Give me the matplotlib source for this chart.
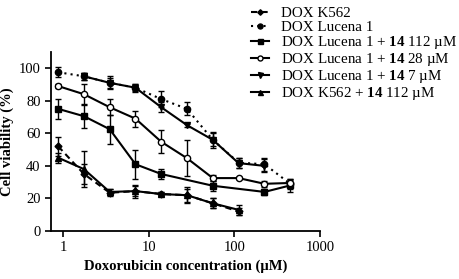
import numpy as np
import matplotlib
matplotlib.use('Agg')
import matplotlib.pyplot as plt
from matplotlib.lines import Line2D

plt.rcParams['font.family'] = ['Liberation Serif', 'DejaVu Serif']
plt.rcParams['mathtext.fontset'] = 'custom'
plt.rcParams['mathtext.rm'] = 'Liberation Serif'
plt.rcParams['mathtext.bf'] = 'Liberation Serif:bold'

#data (doxorubicin concentration in uM, viability in %)
conc = [0.875, 1.75, 3.5, 7, 14, 28, 56, 112, 225, 450]

k562_x = [0.875, 1.75, 3.5, 7, 14, 28, 56, 112]
k562_y = [52, 35, 23.5, 24.5, 22.7, 22, 17, 12]
k562_e = [6, 6, 2, 3, 1, 4, 3, 2]

luc_x = conc
luc_y = [97.5, 95, 91, 88, 81, 75, 56, 42, 41, 29]
luc_e = [3, 2, 4, 2.5, 5, 4, 5, 3, 4, 3]

luc112_x = [0.875, 1.75, 3.5, 7, 14, 56, 225, 450]
luc112_y = [75, 70.5, 62.5, 41, 35, 27.8, 24, 28]
luc112_e = [6, 7, 9, 9, 3, 3, 2, 4]

luc28_x = conc
luc28_y = [89, 84, 76, 69, 54.8, 44.7, 32.5, 32.5, 29, 29.5]
luc28_e = [1, 6, 5, 5, 7, 11, 2, 0.5, 2, 2]

luc7_x = [1.75, 3.5, 7, 14, 28, 56, 112, 225]
luc7_y = [95, 91, 88, 76, 65, 56, 41.7, 40]
luc7_e = [2, 3, 2, 3, 1, 4, 3, 4]

k562c_x = [0.875, 1.75, 3.5, 7, 14, 28, 56, 112]
k562c_y = [45, 38, 24, 24.5, 22.7, 22, 17, 13]
k562c_e = [3, 11, 2, 4, 1, 5, 3, 3]

labels = ['DOX K562',
          'DOX Lucena 1',
          r'DOX Lucena 1 + $\mathbf{14}$ 112 µM',
          r'DOX Lucena 1 + $\mathbf{14}$ 28 µM',
          r'DOX Lucena 1 + $\mathbf{14}$ 7 µM',
          r'DOX K562 + $\mathbf{14}$ 112 µM']

fig = plt.figure(figsize=(4.59, 2.79), dpi=100)
ax = fig.add_axes([0.111, 0.172, 0.586, 0.642])

series = [
    (k562_x, k562_y, k562_e, 'D', (0, (3, 2)), 'k', 3.5),
    (luc_x, luc_y, luc_e, 'o', (0, (1, 2)), 'k', 4.5),
    (luc112_x, luc112_y, luc112_e, 's', '-', 'k', 4.5),
    (luc28_x, luc28_y, luc28_e, 'o', '-', 'w', 4.5),
    (luc7_x, luc7_y, luc7_e, 'v', '-', 'k', 4.5),
    (k562c_x, k562c_y, k562c_e, '^', '-', 'k', 4.5),
]
handles = []
for (x, y, e, m, ls, fc, ms), lab in zip(series, labels):
    ax.errorbar(x, y, yerr=e, fmt=m, linestyle=ls, color='k', mfc=fc, mec='k',
                ms=ms, lw=1.5, elinewidth=1, capsize=2.5, capthick=1)
    handles.append(Line2D([], [], marker=m, linestyle=ls, color='k', mfc=fc, mec='k',
                          ms=ms * 0.8, lw=1.5))

ax.set_xscale('log')
ax.set_xlim(0.72, 1000)
ax.set_ylim(0, 110)
ax.set_xticks([1, 10, 100, 1000])
ax.set_xticklabels(['1', '10', '100', '1000'])
ax.xaxis.set_minor_locator(matplotlib.ticker.NullLocator())
ax.set_yticks([0, 20, 40, 60, 80, 100])
ax.tick_params(labelsize=10.5, width=1.2, length=4)
ax.spines['top'].set_visible(False)
ax.spines['right'].set_visible(False)
ax.spines['left'].set_linewidth(1.3)
ax.spines['bottom'].set_linewidth(1.3)
ax.set_xlabel('Doxorubicin concentration (µM)', fontsize=10.5, fontweight='bold')
ax.set_ylabel('Cell viability (%)', fontsize=10.5, fontweight='bold', labelpad=3)

ax.legend(handles, labels, loc='upper left', bbox_to_anchor=(0.72, 1.285), frameon=False,
          fontsize=10.8, handlelength=1.2, handletextpad=0.8, labelspacing=0.0,
          borderaxespad=0)

fig.savefig('out.png', dpi=100)
